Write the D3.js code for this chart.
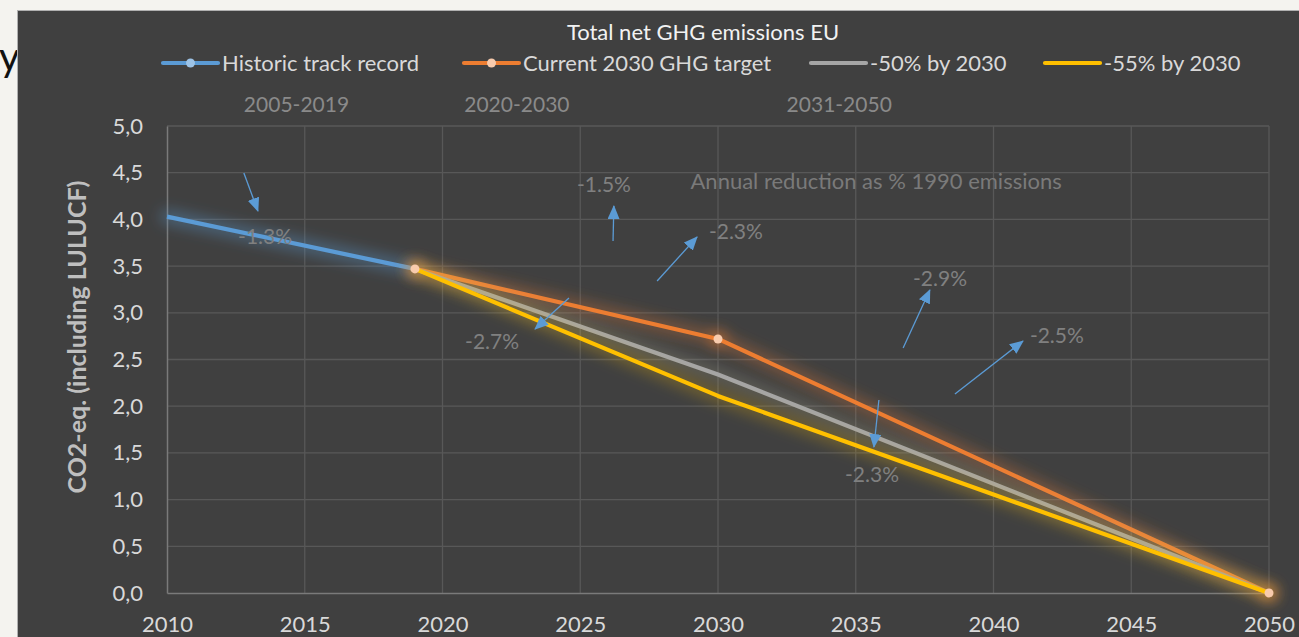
<!DOCTYPE html>
<html>
<head>
<meta charset="utf-8">
<script src="https://cdn.jsdelivr.net/npm/d3@7"></script>
<style>
  html, body { margin: 0; padding: 0; background: #f4f3ef; }
  svg { display: block; }
  text { font-family: Lato, "Open Sans", sans-serif; }
</style>
</head>
<body>
<svg id="chart" width="1299" height="637"></svg>
<script>
// ---------- data ----------
const historicYears = [2010, 2019];
const historicValues = [4.03, 3.47];
const targetYears = [2019, 2030, 2050];
const currentTargetValues = [3.47, 2.72, 0.0];
const minus50Values = [3.47, 2.34, 0.0];
const minus55Values = [3.47, 2.11, 0.0];
const seriesNames = ["Historic track record", "Current 2030 GHG target", "-50% by 2030", "-55% by 2030"];
const yTicks = [0, 0.5, 1, 1.5, 2, 2.5, 3, 3.5, 4, 4.5, 5];
const xTicks = [2010, 2015, 2020, 2025, 2030, 2035, 2040, 2045, 2050];
const periodLabels = ["2005-2019", "2020-2030", "2031-2050"];
const periodCenters = [2014.7, 2022.7, 2034.4];
// annual reduction annotations: label, label anchor (year,value), arrow from, arrow to
const annLabels = ["-1.3%", "-1.5%", "-2.3%", "-2.7%", "-2.9%", "-2.5%", "-2.3%"];
const annLabelAt = [[2013.56, 3.81], [2025.86, 4.37], [2030.65, 3.865], [2021.80, 2.687], [2038.06, 3.362], [2042.30, 2.752], [2035.59, 1.263]];
const annFrom = [[2012.79, 4.497], [2026.19, 3.769], [2027.79, 3.34], [2024.59, 3.158], [2036.72, 2.623], [2038.60, 2.131], [2035.84, 2.066]];
const annTo = [[2013.30, 4.09], [2026.22, 4.143], [2029.24, 3.812], [2023.36, 2.827], [2037.69, 3.244], [2041.07, 2.698], [2035.66, 1.563]];
const noteText = "Annual reduction as % 1990 emissions";
const noteAt = [2035.74, 4.411];

// ---------- setup ----------
const svg = d3.select("#chart");
const x = d3.scaleLinear().domain([2010, 2050]).range([167, 1269]);
const y = d3.scaleLinear().domain([0, 5]).range([593, 126]);
const fmt = d3.format(".1f");
const commaFmt = v => fmt(v).replace(".", ",");

// stray slide title glyph
svg.append("text").attr("x", -1).attr("y", 71)
  .attr("font-size", 40).attr("fill", "#111").text("y");

// panel
svg.append("rect").attr("x", 17.5).attr("y", 10.5).attr("width", 1300).attr("height", 640)
  .attr("fill", "#404040").attr("stroke", "#b0b0b0").attr("stroke-width", 1);

const defs = svg.append("defs");
defs.append("filter").attr("id", "glow").attr("x", "-20%").attr("y", "-50%").attr("width", "140%").attr("height", "200%")
  .append("feGaussianBlur").attr("stdDeviation", 7);
defs.append("marker").attr("id", "arrow").attr("viewBox", "0 0 14 12")
  .attr("refX", 13).attr("refY", 6).attr("markerWidth", 14).attr("markerHeight", 12)
  .attr("markerUnits", "userSpaceOnUse").attr("orient", "auto")
  .append("path").attr("d", "M0,0 L14,6 L0,12 Z").attr("fill", "#5b9bd5");

// gridlines
svg.append("g").selectAll("line").data(yTicks.filter(d => d > 0)).join("line")
  .attr("x1", x(2010)).attr("x2", x(2050)).attr("y1", d => y(d)).attr("y2", d => y(d))
  .attr("stroke", "#585858").attr("stroke-width", 1.3);
svg.append("g").selectAll("line").data(xTicks.filter(d => d > 2010)).join("line")
  .attr("y1", y(0)).attr("y2", y(5)).attr("x1", d => x(d)).attr("x2", d => x(d))
  .attr("stroke", "#585858").attr("stroke-width", 1.3);

// axes
const yAxis = svg.append("g").attr("transform", `translate(${x(2010)},0)`)
  .call(d3.axisLeft(y).tickValues(yTicks).tickSize(0).tickPadding(24).tickFormat(commaFmt));
const xAxis = svg.append("g").attr("transform", `translate(0,${y(0)})`)
  .call(d3.axisBottom(x).tickValues(xTicks).tickSize(0).tickPadding(23).tickFormat(d3.format("d")));
[yAxis, xAxis].forEach(a => {
  a.select(".domain").attr("stroke", "#7a7a7a").attr("stroke-width", 1.5);
  a.selectAll("text").attr("fill", "#d9d9d9").attr("font-size", 22).attr("font-family", "Lato, sans-serif");
});

// y axis title
svg.append("text").attr("transform", "translate(86,337) rotate(-90)").attr("text-anchor", "middle")
  .attr("font-size", 25).attr("font-weight", "bold").attr("fill", "#bfbfbf").text("CO2-eq. (including LULUCF)");

// title
svg.append("text").attr("x", 703).attr("y", 40).attr("text-anchor", "middle")
  .attr("font-size", 22).attr("fill", "#f2f2f2").text("Total net GHG emissions EU");

// period labels
svg.append("g").selectAll("text").data(periodLabels).join("text")
  .attr("x", (d, i) => x(periodCenters[i])).attr("y", 112).attr("text-anchor", "middle")
  .attr("font-size", 21).attr("fill", "#8a8a8a").text(d => d);

// series
const histData = historicYears.map((yr, i) => [yr, historicValues[i]]);
const curData = targetYears.map((yr, i) => [yr, currentTargetValues[i]]);
const m50Data = targetYears.map((yr, i) => [yr, minus50Values[i]]);
const m55Data = targetYears.map((yr, i) => [yr, minus55Values[i]]);
const line = d3.line().x(d => x(d[0])).y(d => y(d[1]));
const series = [
  { data: histData, color: "#5b9bd5", glow: "#5b9bd5", op: 0.38 },
  { data: curData, color: "#ed7d31", glow: "#ed7d31", op: 0.32 },
  { data: m50Data, color: "#a5a5a5", glow: "#bdb79a", op: 0.25 },
  { data: m55Data, color: "#ffc000", glow: "#ffc000", op: 0.26 }
];
series.forEach((s, si) => {
  const gg = svg.append("g").attr("filter", "url(#glow)");
  gg.append("path").attr("d", line(s.data)).attr("fill", "none")
    .attr("stroke", s.glow).attr("stroke-width", 14).attr("stroke-opacity", s.op)
    .attr("stroke-linejoin", "round").attr("stroke-linecap", "round");
  if (si === 1) {
    gg.selectAll("circle").data(curData).join("circle")
      .attr("cx", d => x(d[0])).attr("cy", d => y(d[1])).attr("r", 9)
      .attr("fill", "#ed7d31").attr("opacity", 0.5);
  }
  svg.append("path").attr("d", line(s.data)).attr("fill", "none")
    .attr("stroke", s.color).attr("stroke-width", 4.2).attr("stroke-linejoin", "round");
});
svg.append("g").selectAll("circle").data(curData).join("circle")
  .attr("cx", d => x(d[0])).attr("cy", d => y(d[1])).attr("r", 4.5)
  .attr("fill", "#f8cbad");

// annotations
const annG = svg.append("g");
annLabels.forEach((lab, i) => {
  annG.append("line").attr("x1", x(annFrom[i][0])).attr("y1", y(annFrom[i][1]))
    .attr("x2", x(annTo[i][0])).attr("y2", y(annTo[i][1]))
    .attr("stroke", "#5b9bd5").attr("stroke-width", 1.3).attr("marker-end", "url(#arrow)");
  annG.append("text").attr("x", x(annLabelAt[i][0])).attr("y", y(annLabelAt[i][1]))
    .attr("dy", "0.35em").attr("text-anchor", "middle").attr("font-size", 21)
    .attr("fill", "#808080").text(lab);
});
svg.append("text").attr("x", x(noteAt[0])).attr("y", y(noteAt[1])).attr("dy", "0.35em")
  .attr("text-anchor", "middle").attr("font-size", 22).attr("fill", "#7a7a7a").text(noteText);

// legend
const legendX = [163, 464, 811, 1045];
const legendColors = ["#5b9bd5", "#ed7d31", "#a5a5a5", "#ffc000"];
const legendMarker = ["#9dc3e6", "#f8cbad", null, null];
const lg = svg.append("g");
seriesNames.forEach((name, i) => {
  const g = lg.append("g").attr("transform", `translate(${legendX[i]},63)`);
  g.append("line").attr("x1", 0).attr("x2", 55).attr("stroke", legendColors[i])
    .attr("stroke-width", 4.2).attr("stroke-linecap", "round");
  if (legendMarker[i]) g.append("circle").attr("cx", 27.5).attr("r", 4.5).attr("fill", legendMarker[i]);
  g.append("text").attr("x", 59).attr("dy", "0.35em").attr("font-size", 22)
    .attr("fill", "#d9d9d9").text(name);
});
</script>
</body>
</html>
